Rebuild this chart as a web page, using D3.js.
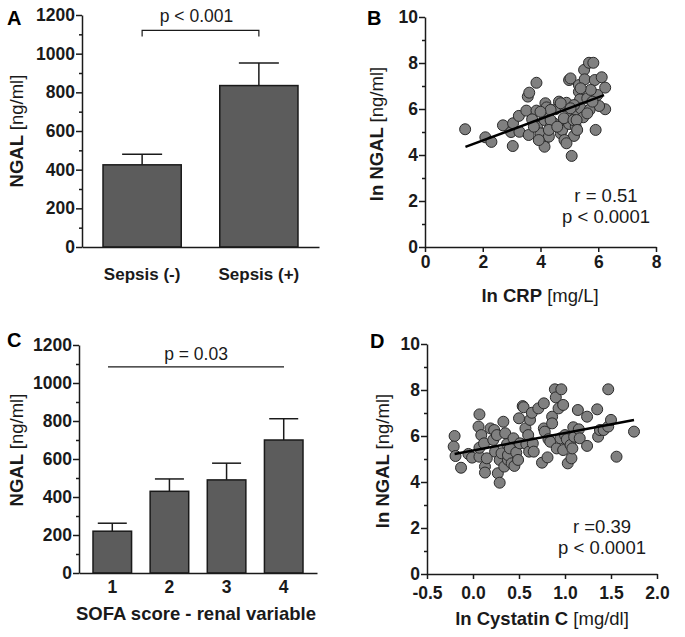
<!DOCTYPE html>
<html>
<head>
<meta charset="utf-8">
<script src="https://cdn.jsdelivr.net/npm/d3@7"></script>
<style>
  body { margin: 0; background: #fff; }
  text { font-family: "Liberation Sans", Arial, sans-serif; }
</style>
</head>
<body>
<svg id="chart" width="685" height="637"></svg>
<script>
// ---- data ----
const sepsisCats = ["Sepsis (-)", "Sepsis (+)"];
const sepsisMean = [425, 835];
const sepsisSem = [55, 117];

const sofaCats = ["1", "2", "3", "4"];
const sofaMean = [220, 430, 490, 700];
const sofaSem = [42, 65, 88, 112];

const ngalTicks = [0, 200, 400, 600, 800, 1000, 1200];
const lnTicks = [0, 2, 4, 6, 8, 10];

// panel B: ln CRP vs ln NGAL
const crpX = [1.39, 2.09, 2.30, 2.70, 3.04, 2.98, 3.05, 3.25, 3.27, 3.56, 3.61, 3.86, 3.51, 3.59, 3.86,
  3.71, 3.88, 4.00, 4.14, 4.17, 4.21, 4.11, 4.14, 4.29, 4.35, 4.46, 4.52, 4.64, 4.70, 4.75,
  4.83, 4.90, 4.99, 5.04, 4.93, 4.99, 5.08, 5.16, 5.22, 5.27, 5.33, 5.37, 5.39, 5.33, 5.51,
  5.53, 5.48, 5.62, 5.68, 5.83, 5.88, 5.91, 5.97, 6.12, 6.24, 6.24, 6.03, 5.70, 5.80, 5.74,
  5.39, 5.16, 5.04, 4.70, 4.35, 4.00, 3.77, 3.94, 4.35, 4.81, 5.14, 5.25, 4.83, 4.90, 5.62,
  5.27, 4.29, 4.58];
const crpY = [5.12, 4.77, 4.57, 5.29, 4.39, 5.00, 5.38, 5.70, 5.01, 6.54, 6.71, 7.14, 5.93, 4.87, 5.93,
  5.55, 5.23, 4.94, 5.52, 6.25, 6.07, 4.58, 4.36, 4.80, 5.23, 5.38, 5.99, 6.32, 4.94, 5.09,
  6.13, 6.27, 7.26, 7.33, 5.60, 5.35, 3.96, 4.83, 5.23, 5.84, 6.75, 6.42, 6.03, 7.04, 7.70,
  7.29, 5.64, 6.46, 8.01, 8.01, 7.26, 5.09, 6.61, 7.38, 6.93, 5.99, 6.13, 5.96, 6.32, 6.83,
  6.90, 6.17, 6.03, 6.25, 5.96, 5.88, 5.23, 4.65, 5.52, 5.60, 5.52, 5.52, 4.65, 4.51, 5.81,
  5.09, 5.09, 5.23];
const crpFitX = [1.4, 6.2];
const crpFitY = [4.35, 6.6];

// panel D: ln Cystatin C vs ln NGAL
const cysX = [-0.20, -0.21, -0.19, -0.13, -0.05, -0.01, 0.06, 0.07, 0.07, 0.07, 0.09, 0.12, 0.13, 0.13, 0.15,
  0.19, 0.22, 0.23, 0.24, 0.26, 0.27, 0.29, 0.29, 0.31, 0.33, 0.34, 0.35, 0.37, 0.38, 0.38,
  0.40, 0.42, 0.44, 0.45, 0.47, 0.49, 0.50, 0.51, 0.54, 0.55, 0.57, 0.58, 0.60, 0.61, 0.62,
  0.64, 0.65, 0.66, 0.71, 0.75, 0.77, 0.77, 0.78, 0.81, 0.82, 0.84, 0.86, 0.86, 0.89, 0.90,
  0.91, 0.93, 0.95, 0.96, 0.98, 0.98, 1.00, 1.02, 1.03, 1.06, 1.07, 1.08, 1.09, 1.10, 1.14,
  1.15, 1.16, 1.24, 1.24, 1.35, 1.36, 1.38, 1.42, 1.47, 1.47, 1.50, 1.56, 1.75];
const cysY = [6.00, 5.54, 5.13, 4.62, 5.22, 5.06, 6.41, 6.94, 5.10, 5.49, 6.04, 5.68, 4.67, 4.41, 5.03,
  6.33, 5.83, 6.26, 5.32, 6.04, 4.38, 3.97, 4.96, 5.25, 6.62, 4.67, 6.12, 5.65, 4.96, 5.17,
  5.46, 4.81, 5.90, 4.70, 5.28, 4.96, 6.77, 5.68, 7.30, 7.25, 6.33, 5.65, 6.04, 5.32, 6.70,
  7.01, 5.68, 5.32, 7.20, 4.84, 7.42, 6.33, 6.19, 5.07, 5.86, 5.75, 6.84, 6.55, 8.03, 7.68,
  5.46, 7.20, 5.90, 8.03, 5.39, 7.35, 6.04, 5.86, 4.81, 5.61, 5.03, 5.46, 6.38, 5.97, 7.13,
  6.29, 5.90, 6.84, 5.57, 7.16, 5.97, 6.26, 6.26, 8.03, 6.41, 6.70, 5.10, 6.19];
const cysFitX = [-0.2, 1.75];
const cysFitY = [5.22, 6.7];

// ---- drawing ----
const svg = d3.select("#chart");
const ink = "#1a1a1a";
const tickFont = 17.5;

function styleAxis(g, fontSize) {
  g.select(".domain").attr("stroke", ink).attr("stroke-width", 1.5);
  g.selectAll(".tick line").attr("stroke", ink).attr("stroke-width", 1.5);
  g.selectAll(".tick text")
    .attr("fill", ink)
    .style("font-size", fontSize + "px")
    .style("font-weight", "bold");
}

function yAxis(y, x0, majors, minors, fmt) {
  // minor ticks first, then the labelled axis on top
  svg.append("g")
    .attr("transform", `translate(${x0},0)`)
    .call(d3.axisLeft(y).tickValues(minors).tickSize(3).tickSizeOuter(0).tickFormat(""))
    .call(g => { g.select(".domain").remove(); g.selectAll("line").attr("stroke", ink).attr("stroke-width", 1.5); });
  svg.append("g")
    .attr("transform", `translate(${x0},0)`)
    .call(d3.axisLeft(y).tickValues(majors).tickSize(6).tickSizeOuter(0).tickPadding(1).tickFormat(fmt))
    .call(g => styleAxis(g, tickFont));
}

function yTitle(cx, cy, boldPart, normalPart) {
  const t = svg.append("text")
    .attr("transform", `translate(${cx},${cy}) rotate(-90)`)
    .attr("text-anchor", "middle")
    .attr("dy", "0.35em")
    .style("font-size", "18.5px")
    .attr("fill", ink);
  t.append("tspan").style("font-weight", "bold").text(boldPart + " ");
  t.append("tspan").text(normalPart);
}

function xTitle(cx, by, boldPart, normalPart) {
  const t = svg.append("text")
    .attr("x", cx).attr("y", by)
    .attr("text-anchor", "middle")
    .style("font-size", "18.5px")
    .attr("fill", ink);
  t.append("tspan").style("font-weight", "bold").text(boldPart);
  if (normalPart) t.append("tspan").text(" " + normalPart);
}

function panelLetter(x, y, s) {
  svg.append("text").attr("x", x).attr("y", y)
    .style("font-size", "20px").style("font-weight", "bold")
    .attr("fill", "#000").text(s);
}

function barPanel(cats, means, sems, o) {
  const x = d3.scaleBand().domain(cats).range(o.xRange)
    .paddingInner(o.padIn).paddingOuter(o.padOut);
  const y = d3.scaleLinear().domain([0, 1200]).range(o.yRange);

  yAxis(y, o.xRange[0], ngalTicks, d3.range(100, 1200, 200), d => d);

  // error bars (upper only)
  const g = svg.append("g");
  g.selectAll(".err").data(cats).enter().append("line")
    .attr("x1", d => x(d) + x.bandwidth() / 2)
    .attr("x2", d => x(d) + x.bandwidth() / 2)
    .attr("y1", (d, i) => y(means[i]))
    .attr("y2", (d, i) => y(means[i] + sems[i]))
    .attr("stroke", ink).attr("stroke-width", 1.5);
  g.selectAll(".cap").data(cats).enter().append("line")
    .attr("x1", d => x(d) + x.bandwidth() / 2 - o.cap / 2)
    .attr("x2", d => x(d) + x.bandwidth() / 2 + o.cap / 2)
    .attr("y1", (d, i) => y(means[i] + sems[i]))
    .attr("y2", (d, i) => y(means[i] + sems[i]))
    .attr("stroke", ink).attr("stroke-width", 1.5);

  g.selectAll(".bar").data(cats).enter().append("rect")
    .attr("x", d => x(d))
    .attr("y", (d, i) => y(means[i]))
    .attr("width", x.bandwidth())
    .attr("height", (d, i) => y(0) - y(means[i]))
    .attr("fill", "#5c5c5c")
    .attr("stroke", ink).attr("stroke-width", 1.5);

  svg.append("g")
    .attr("transform", `translate(0,${o.yRange[0]})`)
    .call(d3.axisBottom(x).tickSize(0).tickSizeOuter(0).tickPadding(o.labelPad))
    .call(g => styleAxis(g, o.labelSize));

  return { x, y };
}

function scatterPanel(xs, ys, fitX, fitY, o) {
  const x = d3.scaleLinear().domain(o.xDomain).range(o.xRange);
  const y = d3.scaleLinear().domain([0, 10]).range(o.yRange);

  yAxis(y, o.xRange[0], lnTicks, [1, 3, 5, 7, 9], d => d);

  svg.append("g")
    .attr("transform", `translate(0,${o.yRange[0]})`)
    .call(d3.axisBottom(x).tickValues(o.xTicks).tickSize(5).tickSizeOuter(0)
      .tickPadding(o.labelPad).tickFormat(o.fmt))
    .call(g => styleAxis(g, tickFont));

  svg.append("g").selectAll("circle").data(xs).enter().append("circle")
    .attr("cx", d => x(d))
    .attr("cy", (d, i) => y(ys[i]))
    .attr("r", 5.5)
    .attr("fill", "#808080")
    .attr("stroke", "#2a2a2a").attr("stroke-width", 1);

  svg.append("line")
    .attr("x1", x(fitX[0])).attr("y1", y(fitY[0]))
    .attr("x2", x(fitX[1])).attr("y2", y(fitY[1]))
    .attr("stroke", "#000").attr("stroke-width", 2.5);

  o.notes.forEach((s, i) => {
    svg.append("text")
      .attr("x", o.noteX).attr("y", o.noteY + i * 21)
      .attr("text-anchor", "middle")
      .style("font-size", "18.5px").attr("fill", ink)
      .text(s);
  });
}

// ---- A ----
panelLetter(7, 25, "A");
const A = barPanel(sepsisCats, sepsisMean, sepsisSem, {
  xRange: [82, 319], yRange: [247, 15], padIn: 0.33, padOut: 0.18,
  cap: 40, labelPad: 21, labelSize: 17
});
yTitle(17, 131, "NGAL", "[ng/ml]");
{
  const xa = A.x(sepsisCats[0]) + A.x.bandwidth() / 2;
  const xb = A.x(sepsisCats[1]) + A.x.bandwidth() / 2;
  const yb = A.y(1120);
  svg.append("path")
    .attr("d", `M${xa},${yb + 6}V${yb}H${xb}V${yb + 6}`)
    .attr("fill", "none").attr("stroke", ink).attr("stroke-width", 1.2);
  svg.append("text").attr("x", (xa + xb) / 2 - 4).attr("y", yb - 8)
    .attr("text-anchor", "middle").style("font-size", "17.5px").attr("fill", ink)
    .text("p < 0.001");
}

// ---- C ----
panelLetter(7, 347, "C");
const C = barPanel(sofaCats, sofaMean, sofaSem, {
  xRange: [79, 317], yRange: [573, 345], padIn: 0.325, padOut: 0.245,
  cap: 29, labelPad: 8, labelSize: 17.5
});
yTitle(17, 450, "NGAL", "[ng/ml]");
xTitle(196, 620, "SOFA score - renal variable");
{
  const yl = C.y(1085);
  svg.append("line").attr("x1", 108).attr("x2", 284).attr("y1", yl).attr("y2", yl)
    .attr("stroke", ink).attr("stroke-width", 1.2);
  svg.append("text").attr("x", 196).attr("y", yl - 7)
    .attr("text-anchor", "middle").style("font-size", "17.5px").attr("fill", ink)
    .text("p = 0.03");
}

// ---- B ----
panelLetter(367, 25, "B");
scatterPanel(crpX, crpY, crpFitX, crpFitY, {
  xDomain: [0, 8], xRange: [425, 656], yRange: [247, 17],
  xTicks: [0, 2, 4, 6, 8], fmt: d => d, labelPad: 4,
  notes: ["r = 0.51", "p < 0.0001"], noteX: 606, noteY: 202
});
yTitle(377, 134, "ln NGAL", "[ng/ml]");
xTitle(540, 302, "ln CRP", "[mg/L]");

// ---- D ----
panelLetter(370, 348, "D");
scatterPanel(cysX, cysY, cysFitX, cysFitY, {
  xDomain: [-0.5, 2.0], xRange: [427, 657], yRange: [574, 344],
  xTicks: [-0.5, 0, 0.5, 1.0, 1.5, 2.0], fmt: d => d.toFixed(1), labelPad: 8,
  notes: ["r =0.39", "p < 0.0001"], noteX: 602, noteY: 533
});
yTitle(383, 461, "ln NGAL", "[ng/ml]");
xTitle(542, 625, "ln Cystatin C", "[mg/dl]");
</script>
</body>
</html>
